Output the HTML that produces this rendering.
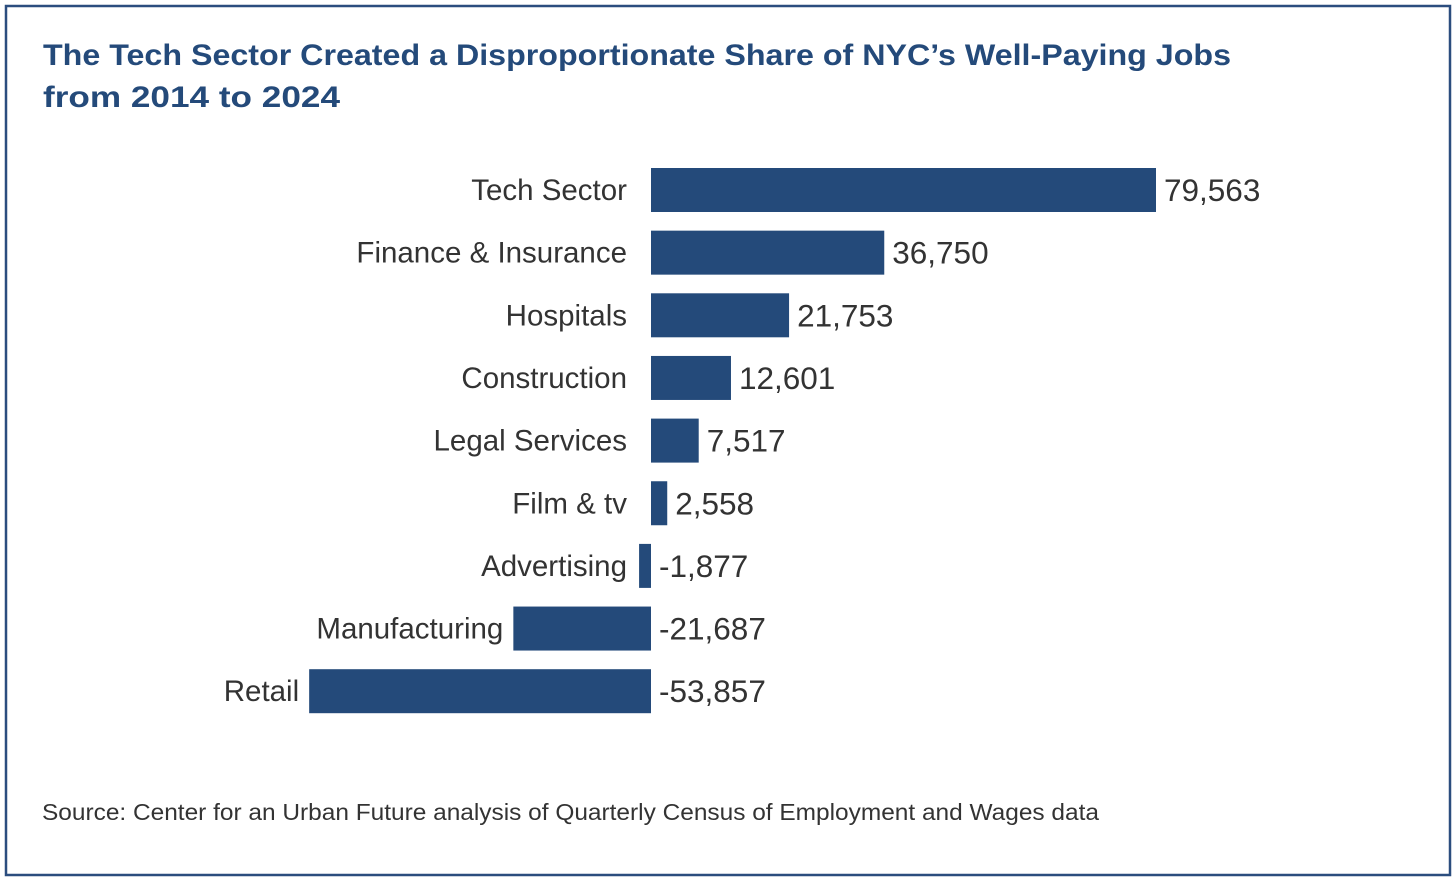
<!DOCTYPE html>
<html><head><meta charset="utf-8"><style>
html,body{margin:0;padding:0;background:#fff}
svg{display:block}
</style></head><body>
<svg width="1456" height="885" xmlns="http://www.w3.org/2000/svg">
<rect x="6" y="6" width="1444" height="869" fill="#fff" stroke="#2b4d7e" stroke-width="2.5"/>
<text x="43" y="65" font-family="Liberation Sans, sans-serif" font-weight="bold" font-size="30" fill="#244a7a" textLength="1188" lengthAdjust="spacingAndGlyphs">The Tech Sector Created a Disproportionate Share of NYC’s Well-Paying Jobs</text>
<text x="43" y="107" font-family="Liberation Sans, sans-serif" font-weight="bold" font-size="30" fill="#244a7a" textLength="297" lengthAdjust="spacingAndGlyphs">from 2014 to 2024</text>
<g id="bars"></g>
<text x="42" y="820" font-family="Liberation Sans, sans-serif" font-size="23" fill="#333" textLength="1057" lengthAdjust="spacingAndGlyphs">Source: Center for an Urban Future analysis of Quarterly Census of Employment and Wages data</text>
</svg>
<script>
const categories = ["Tech Sector","Finance & Insurance","Hospitals","Construction","Legal Services","Film & tv","Advertising","Manufacturing","Retail"];
const values = [79563,36750,21753,12601,7517,2558,-1877,-21687,-53857];
const valueLabels = ["79,563","36,750","21,753","12,601","7,517","2,558","-1,877","-21,687","-53,857"];

const NS="http://www.w3.org/2000/svg";
const g=document.getElementById('bars');
const x0=651, scale=505/79563;
const xPos=v=>x0+v*scale;
const yCenter=i=>190+i*62.65;
const bh=44;
categories.forEach((c,i)=>{
  const v=values[i];
  const xa=Math.min(xPos(0),xPos(v)), xb=Math.max(xPos(0),xPos(v));
  const r=document.createElementNS(NS,'rect');
  r.setAttribute('x',xa);r.setAttribute('y',yCenter(i)-bh/2);
  r.setAttribute('width',Math.max(xb-xa,1));r.setAttribute('height',bh);
  r.setAttribute('fill','#244a7a');
  
  
  g.appendChild(r);
  const lab=document.createElementNS(NS,'text');
  lab.setAttribute('x',Math.min(x0-24,xa-10));lab.setAttribute('y',yCenter(i)+10);
  lab.setAttribute('text-anchor','end');
  lab.setAttribute('font-family','Liberation Sans, sans-serif');
  lab.setAttribute('font-size','29.5');lab.setAttribute('fill','#333');
  lab.textContent=c;
  
  
  g.appendChild(lab);
  const vl=document.createElementNS(NS,'text');
  vl.setAttribute('x',(v>=0?xb:x0)+8);vl.setAttribute('y',yCenter(i)+11);
  vl.setAttribute('font-family','Liberation Sans, sans-serif');
  vl.setAttribute('font-size','31.5');vl.setAttribute('fill','#333');
  vl.textContent=valueLabels[i];
  
  
  g.appendChild(vl);
});
</script>
</body></html>
